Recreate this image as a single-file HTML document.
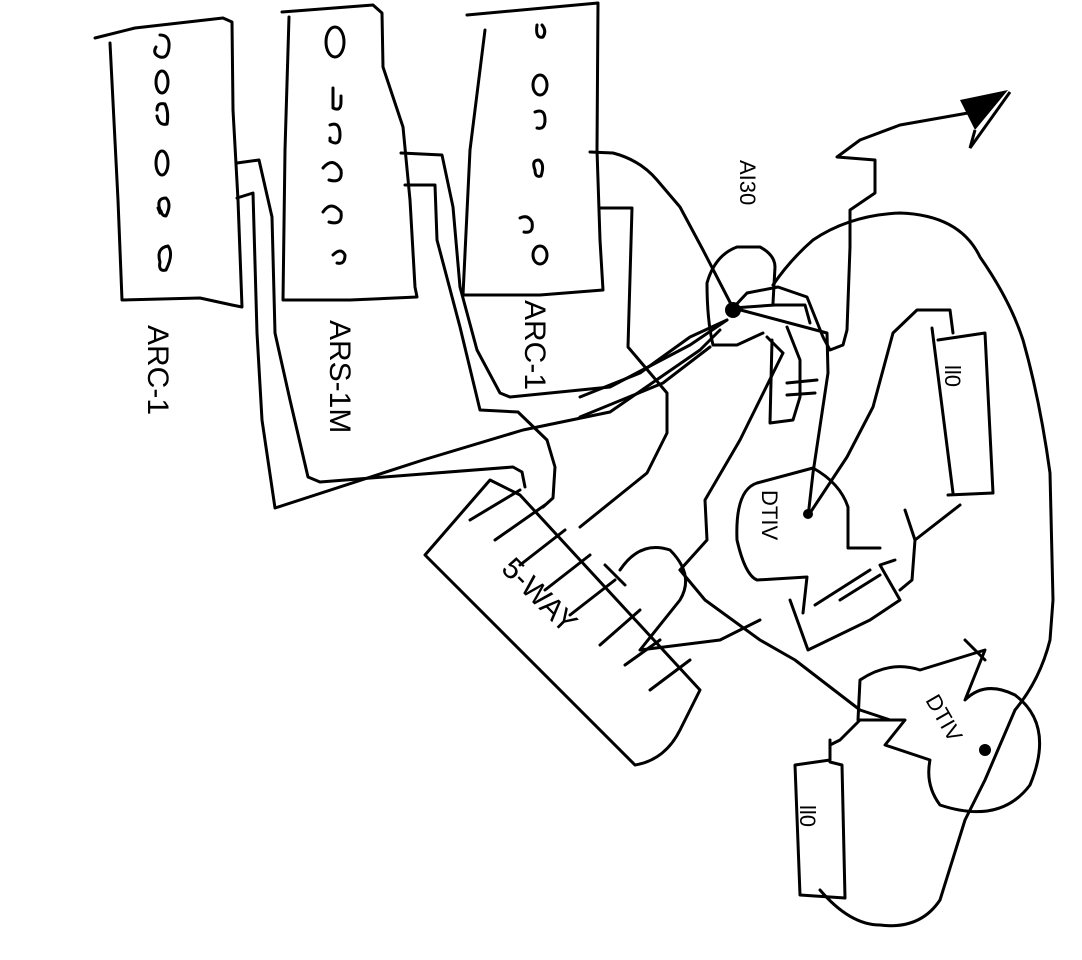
<!DOCTYPE html>
<html><head><meta charset="utf-8"><style>
html,body{margin:0;padding:0;background:#fff;}
svg{display:block}
text{font-family:"Liberation Sans",sans-serif;fill:#000}
</style></head><body>
<svg width="1082" height="960" viewBox="0 0 1082 960" xmlns="http://www.w3.org/2000/svg">
<g fill="none" stroke="#000" stroke-width="3" stroke-linecap="round" stroke-linejoin="round">
<!-- Box 1 -->
<path d="M95,38 L135,28 L223,18 L232,22 L233,110 L238,200 L242,307 L232,305 L200,298 L122,300 L118,200 L110,43"/>
<!-- Box 2 -->
<path d="M282,12 L373,5 L382,13 L383,67 L403,127 L410,200 L415,287 L417,297 L350,300 L283,300 L285,150 L289,17"/>
<!-- Box 3 -->
<path d="M467,15 L598,3 L597,150 L600,240 L603,290 L540,295 L463,295 L470,150 L485,30"/>
<!-- ovals box1 -->
<path d="M160,35 q10,0 9,12 q-1,12 -9,10 q-8,-3 -4,-10"/>
<ellipse cx="162" cy="82" rx="6" ry="11"/>
<path d="M157,110 q0,-8 8,-6 q4,8 2,20 q-8,2 -10,-8"/>
<ellipse cx="162" cy="163" rx="6" ry="12"/>
<path d="M160,210 q-4,-12 6,-12 q6,6 0,18 q-4,0 -5,-5 M160,213 L158,208"/>
<path d="M160,262 q-4,-14 8,-16 q6,8 -2,24 q-8,2 -6,-8"/>
<!-- box2 marks -->
<ellipse cx="335" cy="42" rx="9" ry="15"/>
<path d="M333,88 L333,108 q8,4 8,-6 L341,96"/>
<path d="M330,125 q10,-4 10,10 q0,12 -10,6 L330,138"/>
<path d="M323,168 q10,-12 18,2 q2,14 -12,10"/>
<path d="M323,212 q8,-12 18,0 q2,14 -12,10"/>
<path d="M333,255 q8,-8 12,0 q0,10 -8,8"/>
<!-- box3 marks -->
<path d="M537,25 q-2,14 6,12 q4,-6 -1,-12"/>
<ellipse cx="540" cy="85" rx="7" ry="10"/>
<path d="M535,112 q10,-4 10,8 q0,10 -8,8"/>
<path d="M535,170 q-4,-10 4,-10 q6,4 2,16 q-6,2 -6,-6"/>
<path d="M520,218 q8,-4 12,4 q2,12 -8,10"/>
<ellipse cx="540" cy="255" rx="7" ry="9"/>
<!-- wires from box1 -->
<path d="M237,163 L259,160 L272,217 L275,333 L290,400 L308,477 L320,482 L513,467 L522,472 L525,487"/>
<path d="M237,198 L253,193 L257,333 L262,420 L275,508 L423,460 L523,430 L610,412 L700,350 L720,330"/>
<!-- wires from box2 -->
<path d="M401,153 L442,155 L453,207 L460,287 L477,350 L500,393 L510,397 L610,387 L690,345 L727,320"/>
<path d="M405,185 L435,185 L437,240 L460,327 L480,410 L518,412 L547,440 L555,467 L553,498 L543,507"/>
<!-- wires from box3 -->
<path d="M590,152 L613,153 Q640,160 657,180 L680,207 L703,250 L733,308"/>
<path d="M600,208 L632,208 L628,347 L667,393 L667,433 L647,473 L580,527"/>
<path d="M727,320 L690,337 L640,373 L580,397"/>
<path d="M710,347 L663,383 L580,417"/>
<!-- hub circle -->
<path d="M707,283 Q715,255 737,247 L760,247 Q775,255 775,267 L773,303 M713,345 Q707,320 707,283 M713,345 L737,345 L763,333"/>
<!-- arrow line through hub to DTIV -->
<path d="M985,110 L900,125 L860,140 L837,157 L875,160 L875,193 L850,210 L850,247 L847,330 L843,345 L830,350 L823,337 L807,297 L778,287 L747,293 L733,308"/>
<path d="M733,308 L775,305 L805,305 L810,323 M733,308 L827,333 L828,373 L813,473 L808,517"/>
<!-- big loop -->
<path d="M773,285 Q790,260 813,240 Q850,215 900,213 Q960,215 980,257 Q1010,300 1023,340 Q1040,400 1050,473 L1053,600 L1050,640 Q1040,680 1015,710 L985,780 L965,820 L940,900 Q920,930 880,925 Q850,925 820,890"/>
<!-- small marks under hub -->
<path d="M783,353 L767,337 M783,353 L740,440 L705,500 L707,540 L680,570"/>
<path d="M787,327 L800,360 L800,397 L793,420 L770,423 L772,340"/>
<path d="M787,383 L817,380 M787,395 L815,393"/>
<!-- ll0 box right -->
<path d="M932,328 L953,493 M938,340 L985,333 L993,493 L948,495"/>
<path d="M953,333 L950,310 L917,310 L893,333 L873,407 L847,457 L810,513"/>
<!-- DTIV node -->
<path d="M737,540 Q735,490 757,483 L813,468 Q840,483 848,507 L848,548 L880,548 M737,540 Q745,575 757,580 L807,577 L803,613"/>
<path d="M790,600 L808,650 L870,620 L900,600 L880,565 L895,560"/>
<path d="M815,605 L870,570 M840,600 L880,575"/>
<path d="M905,510 L915,540 L912,580 L900,590 M960,505 L915,540"/>
<!-- 5-WAY box -->
<path d="M425,555 L490,480 L520,495 L700,690 L680,730 Q665,760 635,765 L425,555"/>
<path d="M470,520 L520,490 M495,540 L545,505 M520,565 L565,530 M545,590 L590,555 M570,615 L615,580 M600,645 L640,610 M625,665 L660,640 M650,690 L690,660"/>
<path d="M620,570 Q640,540 670,550 Q695,575 680,600 L640,650 L720,640 L760,620"/>
<path d="M605,565 L625,585"/>
<path d="M680,570 L705,600 L760,640 L795,660 L860,710 L890,720"/>
<!-- DTIV 2 node -->
<path d="M860,680 Q890,660 920,670 L985,650 L965,700 Q985,680 1015,695 Q1055,725 1030,785 Q1000,825 940,805 Q925,785 930,760 L885,745 L905,720 L858,720 Z"/>
<path d="M965,640 L985,660"/>
<path d="M830,740 L830,760 L795,765 L800,895 L845,898 L842,765 L830,762"/>
<path d="M860,720 L840,740 L830,745"/>
</g>
<circle cx="733" cy="310" r="8" fill="#000"/>
<circle cx="808" cy="514" r="5" fill="#000"/>
<circle cx="985" cy="750" r="6" fill="#000"/>
<path d="M960,100 L1008,90 L975,130 Z" fill="#000"/>
<path d="M975,130 L970,148 L1010,92" fill="none" stroke="#000" stroke-width="3"/>
<g font-size="30">
<text transform="translate(148,325) rotate(90)">ARC-1</text>
<text transform="translate(330,320) rotate(90)">ARS-1M</text>
<text transform="translate(525,300) rotate(90)">ARC-1</text>
<text transform="translate(500,570) rotate(45)">5-WAY</text>
</g>
<g font-size="22">
<text transform="translate(740,160) rotate(90)">AI30</text>
<text transform="translate(945,365) rotate(90)">ll0</text>
<text transform="translate(800,805) rotate(90)">ll0</text>
<text transform="translate(762,490) rotate(90)">DTIV</text>
<text transform="translate(925,700) rotate(60)">DTIV</text>
</g>
</svg>
</body></html>
